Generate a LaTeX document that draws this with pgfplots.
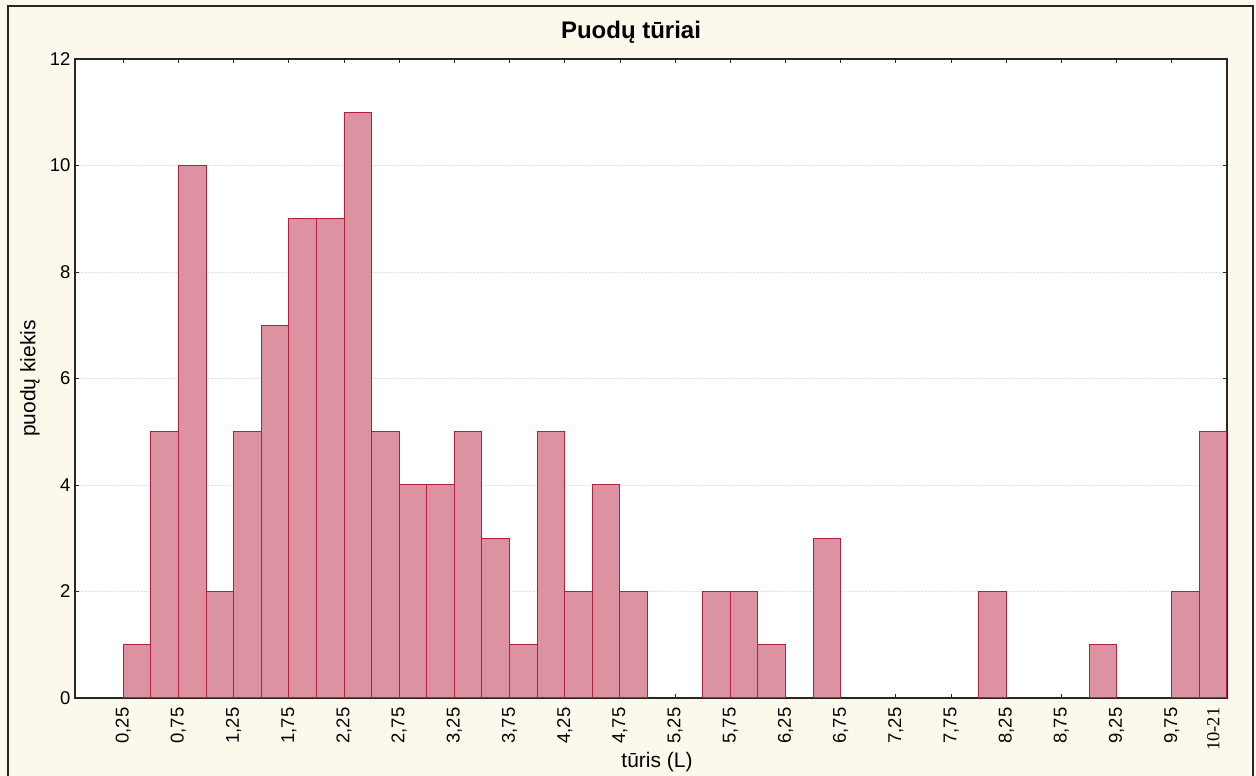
\documentclass[border=0pt]{standalone}
\usepackage{fontspec}
\setmainfont{Liberation Sans}
\newfontfamily\serifl{Liberation Serif}
\usepackage{pgfplots}
\pgfplotsset{compat=1.18}
\definecolor{cream}{RGB}{252,248,236}
\definecolor{barfill}{RGB}{220,146,160}
\definecolor{baredge}{RGB}{180,32,60}
\begin{document}
\begin{tikzpicture}[x=1pt,y=1pt]
\useasboundingbox (-75,-78) rectangle (1181,698);
\fill[cream] (-75,-78) rectangle (1181,698);
\draw[line width=1.2pt, black!85] (-67,-80) -- (-67,692) -- (1178,692) -- (1178,-80);
\begin{axis}[
  at={(0,0)}, anchor=south west,
  scale only axis, width=1152pt, height=639pt,
  xmin=-1.75, xmax=40, ymin=0, ymax=12,
  axis background/.style={fill=white},
  axis line style={line width=1.1pt, black!85},
  tick align=inside,
  major tick length=4pt,
  tick style={line width=0.8pt, black!85},
  xtick={0,2,...,38},
  xticklabels={{0,25},{0,75},{1,25},{1,75},{2,25},{2,75},{3,25},{3,75},{4,25},{4,75},{5,25},{5,75},{6,25},{6,75},{7,25},{7,75},{8,25},{8,75},{9,25},{9,75}},
  x tick label style={rotate=90, anchor=east, font=\fontsize{18.5}{20}\selectfont, xshift=-6pt},
  extra x ticks={39.5},
  extra x tick labels={{\serifl 10-21}},
  extra x tick style={major tick length=0pt},
  ytick={0,2,...,12},
  y tick label style={font=\fontsize{18.5}{20}\selectfont, xshift=-1pt},
  /pgf/number format/assume math mode=true,
  ymajorgrids,
  major grid style={densely dotted, black!10, line width=0.6pt},
  clip=false,
]
\addplot[ybar, bar width=1, bar shift=0pt, fill=barfill, draw=baredge, line width=1pt]
coordinates {
(0.5,1) (1.5,5) (2.5,10) (3.5,2) (4.5,5) (5.5,7) (6.5,9) (7.5,9) (8.5,11) (9.5,5)
(10.5,4) (11.5,4) (12.5,5) (13.5,3) (14.5,1) (15.5,5) (16.5,2) (17.5,4) (18.5,2)
(21.5,2) (22.5,2) (23.5,1) (25.5,3) (31.5,2) (35.5,1) (38.5,2) (39.5,5)
};
\end{axis}
\node[font=\fontsize{24}{27}\selectfont\bfseries] at (556,666) {Puodų tūriai};
\node[font=\fontsize{21}{24}\selectfont, rotate=90] at (-45,319.5) {puodų kiekis};
\node[font=\fontsize{21}{24}\selectfont] at (582,-64) {tūris (L)};
\end{tikzpicture}
\end{document}
